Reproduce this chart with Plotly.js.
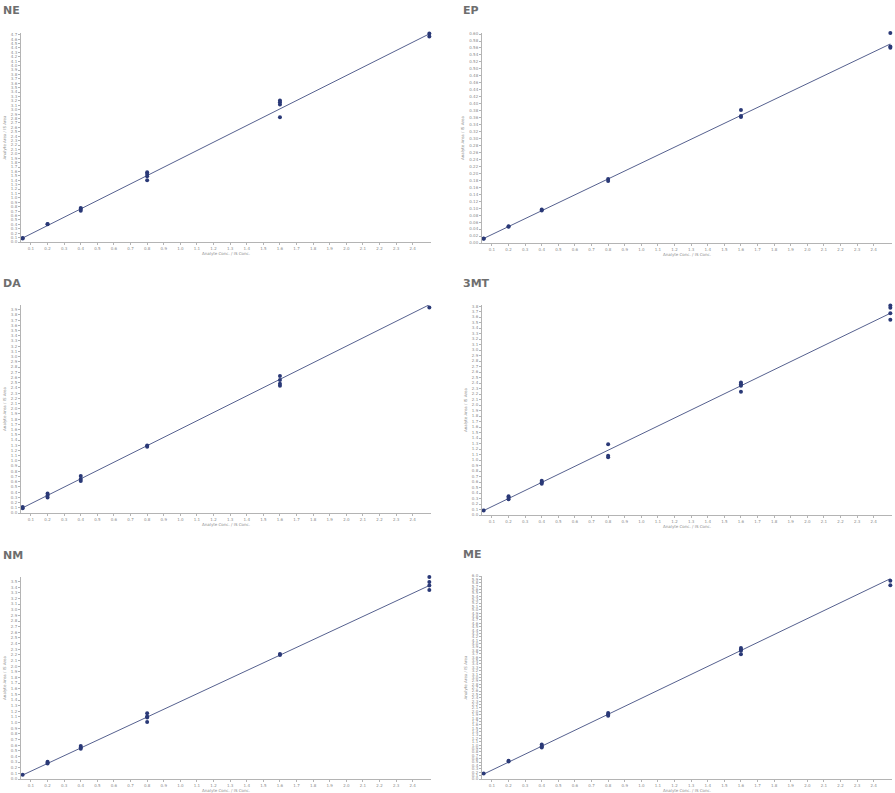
<!DOCTYPE html>
<html>
<head>
<meta charset="utf-8">
<script src="https://cdn.plot.ly/plotly-3.0.1.min.js"></script>
<style>
  html, body { margin: 0; padding: 0; background: #fff; }
  #graph { width: 895px; height: 793px; }
</style>
</head>
<body>
<div id="graph"></div>
<script>
// analyte names
var analytes = ['NE', 'EP', 'DA', '3MT', 'NM', 'ME'];

// concentration ratio of each replicate
var neConc  = [0.05, 0.05, 0.2, 0.2, 0.4, 0.4, 0.4, 0.8, 0.8, 0.8, 0.8, 1.6, 1.6, 1.6, 1.6, 2.5, 2.5];
var neResp  = [0.09, 0.08, 0.41, 0.40, 0.77, 0.75, 0.71, 1.58, 1.54, 1.49, 1.40, 3.21, 3.17, 3.12, 2.83, 4.73, 4.66];

var epConc  = [0.05, 0.05, 0.2, 0.2, 0.4, 0.4, 0.8, 0.8, 1.6, 1.6, 1.6, 2.5, 2.5, 2.5];
var epResp  = [0.013, 0.012, 0.048, 0.047, 0.096, 0.093, 0.184, 0.178, 0.382, 0.365, 0.362, 0.603, 0.564, 0.561];

var daConc  = [0.05, 0.05, 0.2, 0.2, 0.2, 0.4, 0.4, 0.4, 0.8, 0.8, 1.6, 1.6, 1.6, 1.6, 2.5];
var daResp  = [0.115, 0.09, 0.373, 0.335, 0.296, 0.71, 0.65, 0.615, 1.296, 1.27, 2.63, 2.55, 2.48, 2.44, 3.94];

var mtConc  = [0.05, 0.2, 0.2, 0.2, 0.4, 0.4, 0.4, 0.8, 0.8, 0.8, 1.6, 1.6, 1.6, 1.6, 2.5, 2.5, 2.5, 2.5];
var mtResp  = [0.08, 0.34, 0.315, 0.285, 0.624, 0.594, 0.569, 1.285, 1.078, 1.049, 2.41, 2.38, 2.35, 2.24, 3.81, 3.77, 3.67, 3.55];

var nmConc  = [0.05, 0.2, 0.2, 0.2, 0.4, 0.4, 0.4, 0.8, 0.8, 0.8, 0.8, 1.6, 1.6, 2.5, 2.5, 2.5, 2.5];
var nmResp  = [0.075, 0.307, 0.29, 0.273, 0.586, 0.557, 0.535, 1.165, 1.107, 1.09, 1.01, 2.215, 2.198, 3.58, 3.49, 3.43, 3.35];

var meConc  = [0.05, 0.2, 0.2, 0.4, 0.4, 0.4, 0.8, 0.8, 0.8, 1.6, 1.6, 1.6, 1.6, 2.5, 2.5, 2.5];
var meResp  = [0.163, 0.54, 0.52, 1.02, 0.97, 0.93, 1.95, 1.91, 1.87, 3.875, 3.825, 3.79, 3.69, 6.03, 5.86, 5.73];

// calibration line (slope, intercept) read from the drawn fits
var fitSlope     = [1.89, 0.228, 1.59, 1.465, 1.371, 2.357];
var fitIntercept = [-0.005, 0.0016, 0.02, 0.007, 0.0014, 0.027];

var xTickVals = [0.1, 0.2, 0.3, 0.4, 0.5, 0.6, 0.7, 0.8, 0.9, 1.0, 1.1, 1.2,
                 1.3, 1.4, 1.5, 1.6, 1.7, 1.8, 1.9, 2.0, 2.1, 2.2, 2.3, 2.4];

var concs = [neConc, epConc, daConc, mtConc, nmConc, meConc];
var resps = [neResp, epResp, daResp, mtResp, nmResp, meResp];

var W = 895, H = 793;
// plot boxes in pixels [left, top, right, bottom]
var boxes = [
    [21, 33, 431, 242],
    [482, 33, 892, 243],
    [21, 305, 431, 513],
    [482, 305, 892, 515],
    [21, 577, 431, 779],
    [482, 576, 892, 779]
];
var yTop  = [4.74, 0.603, 3.99, 3.82, 3.58, 6.0];
var yStep = [0.1, 0.02, 0.1, 0.1, 0.1, 0.1];

var markColor = '#2a3977';
var lineColor = '#56618f';
var axisColor = '#b4b4b4';
var tickFont  = { family: 'DejaVu Sans, Verdana, sans-serif', size: 4, color: '#8a8a8a' };

var data = [];
var layout = {
    width: W,
    height: H,
    margin: { l: 0, r: 0, t: 0, b: 0 },
    paper_bgcolor: '#ffffff',
    plot_bgcolor: '#ffffff',
    showlegend: false,
    annotations: []
};

for (var i = 0; i < analytes.length; i++) {
    var n = i === 0 ? '' : String(i + 1);
    var b = boxes[i];
    var lo = Math.min.apply(null, concs[i]);
    var hi = Math.max.apply(null, concs[i]);

    data.push({
        x: [lo, hi],
        y: [fitSlope[i] * lo + fitIntercept[i], fitSlope[i] * hi + fitIntercept[i]],
        xaxis: 'x' + n, yaxis: 'y' + n,
        type: 'scatter', mode: 'lines',
        line: { color: lineColor, width: 1 },
        cliponaxis: false,
        hoverinfo: 'skip'
    });
    data.push({
        x: concs[i],
        y: resps[i],
        xaxis: 'x' + n, yaxis: 'y' + n,
        type: 'scatter', mode: 'markers',
        marker: { color: markColor, size: 4 },
        cliponaxis: false
    });

    layout['xaxis' + n] = {
        domain: [b[0] / W, b[2] / W],
        anchor: 'y' + n,
        range: [0.04, 2.51],
        tickvals: xTickVals,
        tickformat: '.1f',
        showgrid: false, zeroline: false,
        showline: true, linecolor: axisColor, linewidth: 1,
        ticks: 'outside', ticklen: 2, tickcolor: axisColor,
        tickfont: tickFont,
        title: { text: 'Analyte Conc. / IS Conc.', font: tickFont, standoff: 0 }
    };
    layout['yaxis' + n] = {
        domain: [1 - b[3] / H, 1 - b[1] / H],
        anchor: 'x' + n,
        range: [0, yTop[i]],
        dtick: yStep[i],
        tick0: 0,
        tickformat: yStep[i] < 0.1 ? '.2f' : '.1f',
        showgrid: false, zeroline: false,
        showline: true, linecolor: axisColor, linewidth: 1,
        ticks: 'outside', ticklen: 2, tickcolor: axisColor,
        tickfont: tickFont,
        title: { text: 'Analyte Area / IS Area', font: tickFont, standoff: 4 }
    };

    layout.annotations.push({
        text: '<b>' + analytes[i] + '</b>',
        xref: 'paper', yref: 'paper',
        x: (b[0] < 100 ? 1 : 461) / W,
        y: 1 - (b[1] - 22) / H,
        xanchor: 'left', yanchor: 'middle',
        showarrow: false,
        font: { family: 'DejaVu Sans, Verdana, sans-serif', size: 11, color: '#6e6e6e' }
    });
}

Plotly.newPlot('graph', data, layout, { displayModeBar: false, staticPlot: true });
</script>
</body>
</html>
